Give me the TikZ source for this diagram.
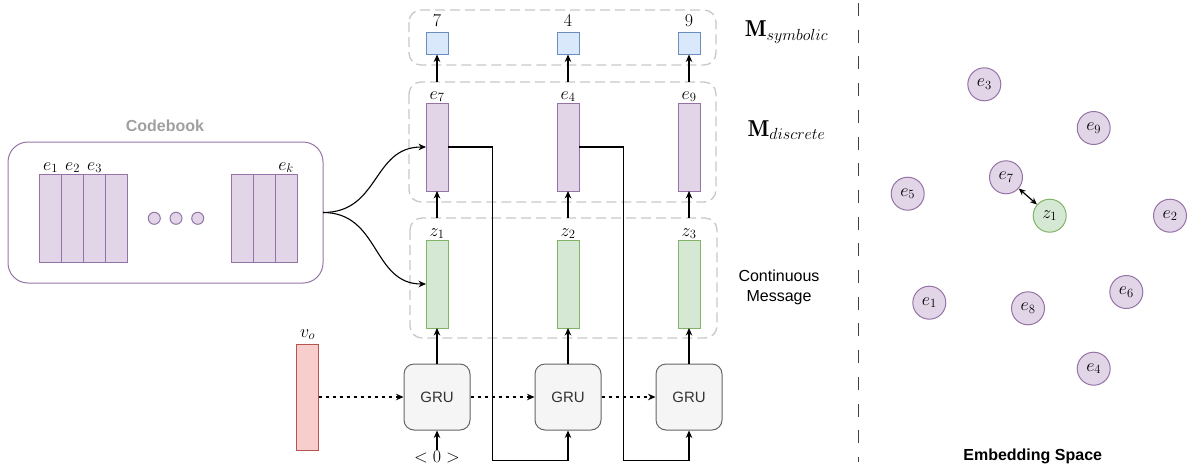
\RequirePackage{fix-cm}
\documentclass[tikz,border=0pt]{standalone}
\usepackage{fontspec}
\setsansfont{Liberation Sans}
\usetikzlibrary{arrows.meta,positioning}
\definecolor{pfill}{HTML}{E1D5E7}\definecolor{pdraw}{HTML}{9673A6}
\definecolor{gfill}{HTML}{D5E8D4}\definecolor{gdraw}{HTML}{82B366}
\definecolor{bfill}{HTML}{DAE8FC}\definecolor{bdraw}{HTML}{6C8EBF}
\definecolor{rfill}{HTML}{F8CECC}\definecolor{rdraw}{HTML}{B85450}
\definecolor{grufill}{HTML}{F5F5F5}\definecolor{grudraw}{HTML}{666666}
\definecolor{dashbox}{HTML}{C8C8C8}\definecolor{txtgray}{HTML}{333333}
\definecolor{cbgray}{HTML}{A0A0A0}
\tikzset{
  bar/.style={draw=#1draw, fill=#1fill, line width=1pt, minimum width=22pt, inner sep=0pt, outer sep=0pt},
  sq/.style={draw=bdraw, fill=bfill, line width=1pt, minimum width=22pt, minimum height=22pt, inner sep=0pt},
  gru/.style={draw=grudraw, fill=grufill, line width=1pt, rounded corners=10pt, minimum width=66pt, minimum height=66pt, font=\sffamily\fontsize{15}{18}\selectfont, text=txtgray},
  grp/.style={draw=dashbox, line width=1.3pt, dash pattern=on 10pt off 5pt, rounded corners=12pt},
  lab/.style={font=\fontsize{18}{21}\selectfont, inner sep=0pt},
  emb/.style={circle, draw=pdraw, fill=pfill, line width=1pt, minimum size=33pt, inner sep=0pt, font=\fontsize{18}{21}\selectfont},
  arr/.style={line width=1.1pt, -{Stealth[length=7.5pt,width=6.5pt]}},
  darr/.style={line width=1.1pt, dash pattern=on 3.5pt off 3.5pt, -{Stealth[length=7.5pt,width=6.5pt]}},
}
\begin{document}
\begin{tikzpicture}[x=1pt,y=-1pt]
\useasboundingbox (0,0) rectangle (1190,469);
% --- Codebook
\node[font=\sffamily\bfseries\fontsize{16}{19}\selectfont, text=cbgray] (cbt) at (165,126) {Codebook};
\draw[draw=pdraw, line width=1pt, rounded corners=20pt] (8,142) rectangle (323,283);
\coordinate (cbr) at (323,212.5);
\foreach \i/\x in {1/39.5,2/61.5,3/83.5,4/105.5,5/231,6/253,7/275}{
  \node[bar=p, minimum height=88pt, anchor=north west] (cb\i) at (\x,174) {};
}
\node[lab, anchor=south] (cbe1) at ([yshift=1pt]cb1.north) {$e_1$};
\node[lab, anchor=south] (cbe2) at ([yshift=1pt]cb2.north) {$e_2$};
\node[lab, anchor=south] (cbe3) at ([yshift=1pt]cb3.north) {$e_3$};
\node[lab, anchor=south] (cbek) at ([yshift=1pt]cb7.north) {$e_k$};
\foreach \i/\x in {1/154.3,2/176,3/197.7}{
  \node[circle, draw=pdraw, fill=pfill, line width=1pt, minimum size=12pt, inner sep=0pt] (dot\i) at (\x,218.3) {};
}
% --- group boxes
\draw[grp] (409,10) rectangle (716,65);
\draw[grp] (409,82) rectangle (716,202);
\draw[grp] (410,218) rectangle (717,338);
% --- columns
\foreach \c/\x/\n/\e/\z in {1/437/7/7/1, 2/568/4/4/2, 3/689/9/9/3}{
  \node[sq] (s\c) at (\x,43) {};
  \node[lab, anchor=south] (sl\c) at ([yshift=5pt]s\c.north) {$\n$};
  \node[bar=p, minimum height=88pt] (d\c) at (\x,147) {};
  \node[lab, anchor=south] (dl\c) at ([yshift=1pt]d\c.north) {$e_{\e}$};
  \node[bar=g, minimum height=88pt] (z\c) at (\x,284) {};
  \node[lab, anchor=south] (zl\c) at ([yshift=1pt]z\c.north) {$z_{\z}$};
  \node[gru] (g\c) at (\x,397) {GRU};
  \coordinate (dt\c) at (\x,82);
  \coordinate (zt\c) at (\x,218);
  \draw[arr] (dt\c) -- (s\c.south);
  \draw[arr] (zt\c) -- (d\c.south);
  \draw[arr] (g\c.north) -- (z\c.south);
}
% v_o
\node[bar=r, minimum height=106pt] (vo) at (307.7,397) {};
\node[lab, anchor=south] (vol) at ([yshift=4pt]vo.north) {$v_o$};
\draw[darr] (vo.east) -- (g1.west);
\draw[darr] (g1.east) -- (g2.west);
\draw[darr] (g2.east) -- (g3.west);
% <0>
\node[lab] (zero) at (437,456.5) {$<0>$};
\draw[arr] (zero.north) -- (g1.south);
% feedback wires
\draw[arr] (d1.east) -| (492.3,460.7) -| (g2.south);
\draw[arr] (d2.east) -| (623.3,460.7) -| (g3.south);
% codebook curves
\draw[arr] (cbr) .. controls (380,212.5) and (372,147) .. (d1.west);
\draw[arr] (cbr) .. controls (380,212.5) and (372,284) .. (z1.west);
% --- row labels
\node[font=\fontsize{23}{26}\selectfont] (msym) at (786.5,32) {$\mathbf{M}_{symbolic}$};
\node[font=\fontsize{23}{26}\selectfont] (mdis) at (786.5,130) {$\mathbf{M}_{discrete}$};
\node[font=\sffamily\fontsize{16}{20}\selectfont, align=center] (cont) at (779,287) {Continuous\\Message};
% --- divider
\draw[draw=black!75, line width=1.3pt, dash pattern=on 13pt off 13.7pt] (858.3,3) -- (858.3,462);
% --- embedding space
\foreach \n/\x/\y in {3/984.3/84.3, 9/1093.7/128, 7/1006/177.3, 5/907.7/193.7, 2/1170/215.7, 6/1126.3/292, 1/929.3/302.7, 8/1028/308.3, 4/1093.7/368.7}{
  \node[emb] (ee\n) at (\x,\y) {$e_{\n}$};
}
\node[emb, draw=gdraw, fill=gfill] (ez1) at (1049.7,215.7) {$z_1$};
\draw[line width=1.2pt, {Stealth[length=7pt,width=6pt]}-{Stealth[length=7pt,width=6pt]}] (ee7) -- (ez1);
\node[font=\sffamily\bfseries\fontsize{16}{19}\selectfont] (est) at (1032.7,456) {Embedding Space};
\end{tikzpicture}
\end{document}
